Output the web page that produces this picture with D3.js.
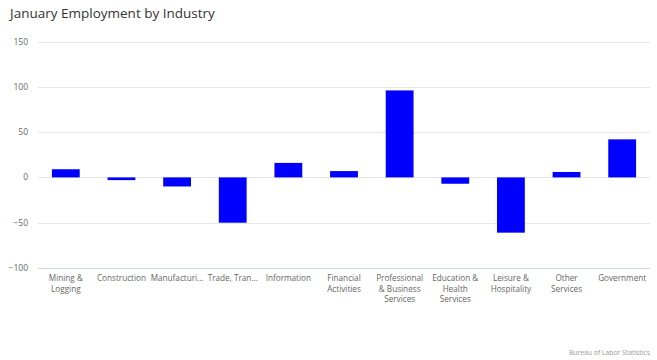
<!DOCTYPE html>
<html><head><meta charset="utf-8">
<script src="https://cdn.jsdelivr.net/npm/d3@7"></script>
<style>body{margin:0;background:#fff;font-family:"Open Sans","DejaVu Sans",sans-serif;}</style>
</head><body><svg id="c" width="657" height="360"></svg>
<script>
const categories = ["Mining & Logging","Construction","Manufacturing","Trade, Transportation & Utilities","Information","Financial Activities","Professional & Business Services","Education & Health Services","Leisure & Hospitality","Other Services","Government"];
const labels = [["Mining &","Logging"],["Construction"],["Manufacturi…"],["Trade, Tran…"],["Information"],["Financial","Activities"],["Professional","& Business","Services"],["Education &","Health","Services"],["Leisure &","Hospitality"],["Other","Services"],["Government"]];
const values = [9, -3, -10, -50, 16, 7, 96, -7, -61, 6, 42];
const yTicks = [-100, -50, 0, 50, 100, 150];

const svg = d3.select("#c");
const L = 38, R = 650, T = 41.5, B = 268;
const x = d3.scaleBand().domain(categories).range([L, R]).paddingInner(0.5).paddingOuter(0.25);
const y = d3.scaleLinear().domain([-100, 150]).range([B, T]);

svg.append("text").attr("x", 10).attr("y", 18).attr("font-size", 13.5).attr("fill", "#333").text("January Employment by Industry");

const g = svg.append("g");
g.selectAll("line.grid").data(yTicks).join("line")
  .attr("x1", L).attr("x2", R).attr("y1", d => Math.round(y(d)) + 0.5).attr("y2", d => Math.round(y(d)) + 0.5)
  .attr("stroke", d => d === -100 ? "#ccd6eb" : "#e6e6e6").attr("stroke-width", 1);
g.selectAll("text.yl").data(yTicks).join("text")
  .attr("x", 28).attr("y", d => y(d) + 3).attr("text-anchor", "end").attr("font-size", 8.5).attr("fill", "#666")
  .text(d => d < 0 ? "\u2212" + Math.abs(d) : d);

g.selectAll("rect").data(values).join("rect")
  .attr("x", (d, i) => x(categories[i]))
  .attr("width", x.bandwidth())
  .attr("y", d => d >= 0 ? y(d) : y(0))
  .attr("height", d => Math.abs(y(d) - y(0)))
  .attr("fill", "#0000ff");

const lab = g.selectAll("text.xl").data(labels).join("text")
  .attr("text-anchor", "middle").attr("font-size", 8.2).attr("fill", "#666")
  .attr("transform", (d, i) => `translate(${x(categories[i]) + x.bandwidth()/2},${281})`);
lab.selectAll("tspan").data(d => d).join("tspan").attr("x", 0).attr("dy", (d, i) => i ? 10.5 : 0).text(d => d);

svg.append("text").attr("x", 650).attr("y", 355).attr("text-anchor", "end").attr("font-size", 6.8).attr("fill", "#999").text("Bureau of Labor Statistics");
</script></body></html>
